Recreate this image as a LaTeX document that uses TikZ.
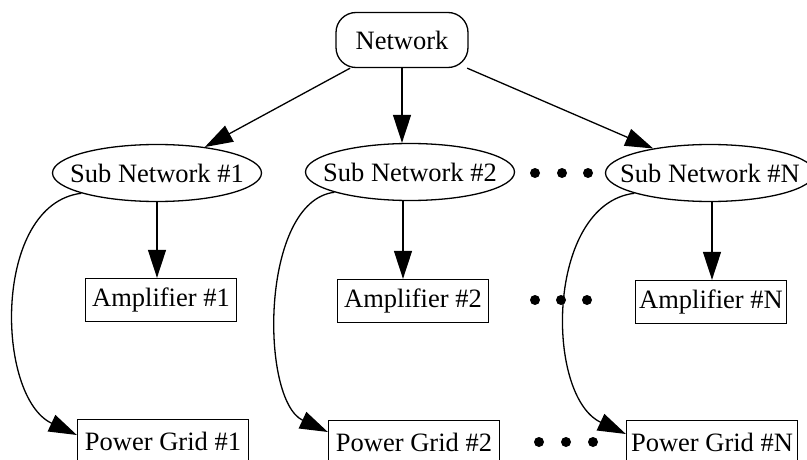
\documentclass[tikz,border=0pt]{standalone}
\usepackage{fontspec}
\setmainfont{Liberation Serif}
\usetikzlibrary{shapes.geometric,arrows.meta}
\tikzstyle{every node}=[font=\fontsize{26.5}{31}\selectfont]
\tikzstyle{netbox}=[draw, line width=1.3pt, rounded corners=20pt, minimum width=132pt, minimum height=55pt]
\tikzstyle{subnet}=[draw, line width=1.3pt, ellipse, inner sep=0pt, minimum width=209pt, minimum height=57pt]
\tikzstyle{ampbox}=[draw, line width=1.3pt, rectangle, inner xsep=3pt, minimum width=151pt, minimum height=43pt]
\tikzstyle{gridbox}=[draw, line width=1.3pt, rectangle, inner xsep=3pt, minimum width=171pt, minimum height=43pt]
\tikzstyle{dotmark}=[circle, fill=black, inner sep=0pt, minimum size=10pt]
\tikzset{link/.style={-{Triangle[length=28pt,width=18pt]}, line width=1.3pt}}
% text of fixed-size ellipses
\newcommand{\sublabel}[1]{\makebox[0pt]{#1}}

\begin{document}
\begin{tikzpicture}[x=1pt,y=1pt]
  \useasboundingbox (0,0) rectangle (807,-460);
  \clip (0,0) rectangle (807,-460);

  \draw (402,-40) node[netbox] (Net) {Network};

  \draw (157,-173) node[subnet] (S1) {\sublabel{Sub Network \#1}};
  \draw (410,-172) node[subnet] (S2) {\sublabel{Sub Network \#2}};
  \draw (710,-173) node[subnet] (SN) {\sublabel{Sub Network \#N}};

  \draw (161,-300) node[ampbox] (A1) {Amplifier \#1};
  \draw (413,-301) node[ampbox] (A2) {Amplifier \#2};
  \draw (711,-302) node[ampbox] (AN) {Amplifier \#N};

  \draw (163,-441) node[gridbox] (P1) {Power Grid \#1};
  \draw (414,-442) node[gridbox] (P2) {Power Grid \#2};
  \draw (712,-442) node[gridbox] (PN) {Power Grid \#N};

  %% dots between columns
  \draw (535,-173) node[dotmark] (D11) {};
  \draw (562,-173) node[dotmark] (D12) {};
  \draw (588,-173) node[dotmark] (D13) {};
  \draw (535,-300) node[dotmark] (D21) {};
  \draw (561,-300) node[dotmark] (D22) {};
  \draw (587,-300) node[dotmark] (D23) {};
  \draw (539,-442) node[dotmark] (D31) {};
  \draw (566,-442) node[dotmark] (D32) {};
  \draw (593,-442) node[dotmark] (D33) {};

  %% network to sub networks
  \draw[link] (Net) -- (S1);
  \draw[link] (Net.south) -- (Net.south |- S2.north);
  \draw[link] (Net) -- (SN);

  %% sub networks to amplifiers
  \draw[link] (S1.south) -- (S1.south |- A1.north);
  \draw[link] ([xshift=-7pt]S2.south) -- ([xshift=-7pt]S2.south |- A2.north);
  \draw[link] ([xshift=2pt]SN.south) -- ([xshift=2pt]SN.south |- AN.north);

  %% sub networks to power grids
  \draw[link] (S1.195) to[out=187,in=155,looseness=0.95] ([yshift=6pt]P1.west);
  \draw[link] (S2.195) to[out=187,in=155,looseness=0.8] ([yshift=10pt]P2.west);
  \draw[link] (SN.195) to[out=187,in=155,looseness=0.95] ([yshift=8pt]PN.west);
\end{tikzpicture}
\end{document}
